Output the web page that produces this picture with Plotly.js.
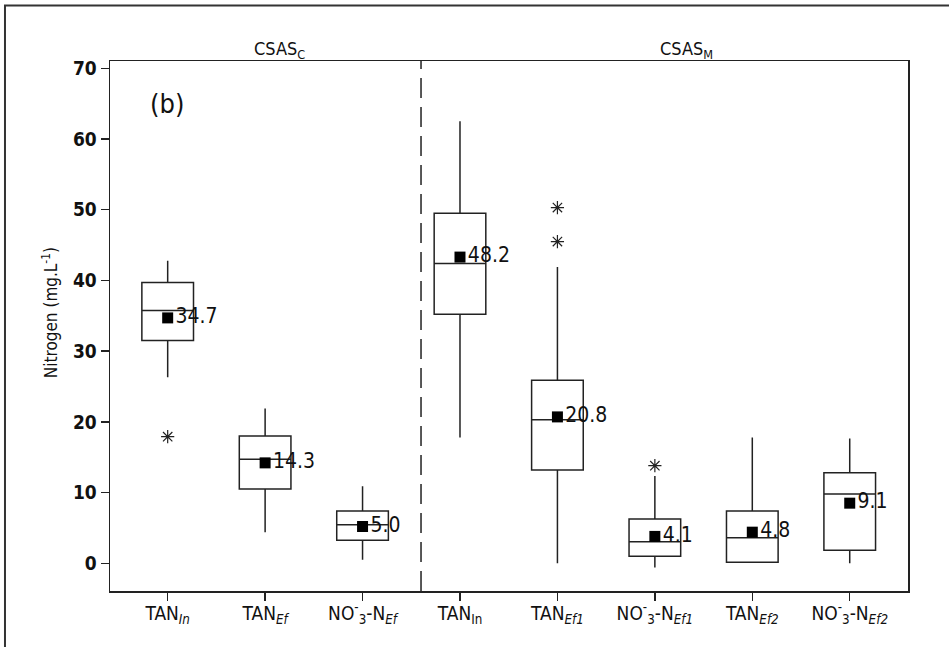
<!DOCTYPE html>
<html>
<head>
<meta charset="utf-8">
<script src="https://cdn.plot.ly/plotly-3.0.1.min.js"></script>
<style>html,body{margin:0;padding:0;background:#fff;}#chart{width:949px;height:647px;}</style>
</head>
<body>
<div id="chart"></div>
<script>
// ---- data ----
const categories = ['TAN<sub><i>In</i></sub>', 'TAN<sub><i>Ef</i></sub>', 'NO<sup>-</sup><sub>3</sub>-N<sub><i>Ef</i></sub>',
  'TAN<sub>In</sub>', 'TAN<sub><i>Ef1</i></sub>', 'NO<sup>-</sup><sub>3</sub>-N<sub><i>Ef1</i></sub>',
  'TAN<sub><i>Ef2</i></sub>', 'NO<sup>-</sup><sub>3</sub>-N<sub><i>Ef2</i></sub>'];
const positions   = [0, 1, 2, 3, 4, 5, 6, 7];
const lowerWhisk  = [26.3, 4.4, 0.5, 17.8, 0.0, -0.6, 0.14, 0.0];
const q1Values    = [31.5, 10.5, 3.25, 35.2, 13.2, 1.0, 0.14, 1.85];
const medians     = [35.75, 14.7, 5.45, 42.4, 20.3, 3.05, 3.6, 9.8];
const q3Values    = [39.7, 18.0, 7.4, 49.5, 25.9, 6.25, 7.4, 12.8];
const upperWhisk  = [42.8, 21.9, 10.9, 62.5, 41.9, 12.35, 17.8, 17.65];
const meanValues  = [34.7, 14.2, 5.2, 43.3, 20.7, 3.8, 4.4, 8.5];
const meanLabels  = ['34.7', '14.3', '5.0', '48.2', '20.8', '4.1', '4.8', '9.1'];
const outlierX    = [0, 4, 4, 5];
const outlierY    = [17.9, 50.3, 45.5, 13.8];
const yTicks      = [0, 10, 20, 30, 40, 50, 60, 70];
const groupLabels = ['CSAS<sub>C</sub>', 'CSAS<sub>M</sub>'];
const panelLetter = '(b)';
const yTitle      = 'Nitrogen (mg.L<sup>-1</sup>)';
const dividerX    = 2.6;

const FONT = '"Liberation Sans Narrow", "DejaVu Sans Condensed", "Roboto Condensed", sans-serif';
const INK = '#222';

const traces = [
  {
    type: 'box', x: positions, q1: q1Values, median: medians, q3: q3Values,
    lowerfence: lowerWhisk, upperfence: upperWhisk,
    boxpoints: false, width: 0.53, whiskerwidth: 0,
    fillcolor: 'rgba(255,255,255,0)', line: {color: INK, width: 1.5},
    hoverinfo: 'skip', showlegend: false
  },
  {
    type: 'scatter', mode: 'markers', x: outlierX, y: outlierY,
    marker: {symbol: 'asterisk-open', size: 11, color: INK, line: {color: INK, width: 1.2}},
    hoverinfo: 'skip', showlegend: false
  },
  {
    type: 'scatter', mode: 'markers+text', x: positions, y: meanValues,
    text: meanLabels, textposition: 'middle right',
    textfont: {family: FONT, size: 21, color: '#111'},
    marker: {symbol: 'square', size: 11, color: '#000'},
    hoverinfo: 'skip', showlegend: false
  }
];

const layout = {
  width: 949, height: 647,
  margin: {l: 110, r: 41, t: 61, b: 56.3, pad: 0},
  paper_bgcolor: '#fff', plot_bgcolor: '#fff',
  font: {family: FONT, color: '#111'},
  showlegend: false,
  xaxis: {
    range: [-0.592, 7.598], tickvals: positions, ticktext: categories,
    showgrid: false, zeroline: false, showline: true, mirror: true,
    linecolor: INK, linewidth: 1.5, ticks: 'outside', ticklen: 8, tickwidth: 1.5, tickcolor: INK,
    ticklabelstandoff: -3,
    tickfont: {family: FONT, size: 19, color: '#111'}, fixedrange: true
  },
  yaxis: {
    range: [-3.92, 71.03], tickvals: yTicks,
    showgrid: false, zeroline: false, showline: true, mirror: true,
    linecolor: INK, linewidth: 1.5, ticks: 'outside', ticklen: 8, tickwidth: 1.5, tickcolor: INK,
    tickfont: {family: FONT, size: 19, color: '#111', weight: 'bold'}, fixedrange: true
  },
  shapes: [
    {type: 'line', xref: 'x', yref: 'paper', x0: dividerX, x1: dividerX, y0: 0, y1: 1,
     line: {color: INK, width: 1.5, dash: '20px,9px'}},
    {type: 'rect', xref: 'paper', yref: 'paper', x0: -0.1316, x1: 1.3, y0: -0.3, y1: 1.1048,
     line: {color: '#333', width: 2}, fillcolor: 'rgba(0,0,0,0)'}
  ],
  annotations: [
    {text: groupLabels[0], xref: 'paper', yref: 'paper', x: 0.212, y: 0.994, xanchor: 'center', yanchor: 'bottom',
     showarrow: false, font: {family: FONT, size: 18, color: '#111'}},
    {text: groupLabels[1], xref: 'paper', yref: 'paper', x: 0.723, y: 0.994, xanchor: 'center', yanchor: 'bottom',
     showarrow: false, font: {family: FONT, size: 18, color: '#111'}},
    {text: panelLetter, xref: 'x', yref: 'y', x: -0.2, y: 64.95, xanchor: 'left', yanchor: 'middle',
     showarrow: false, font: {family: FONT, size: 27, color: '#111'}},
    {text: yTitle, xref: 'paper', yref: 'paper', x: -0.0752, y: 0.526, xanchor: 'center', yanchor: 'middle',
     textangle: -90, showarrow: false, font: {family: FONT, size: 17, color: '#111'}}
  ]
};

Plotly.newPlot('chart', traces, layout, {displayModeBar: false, staticPlot: true});
</script>
</body>
</html>
